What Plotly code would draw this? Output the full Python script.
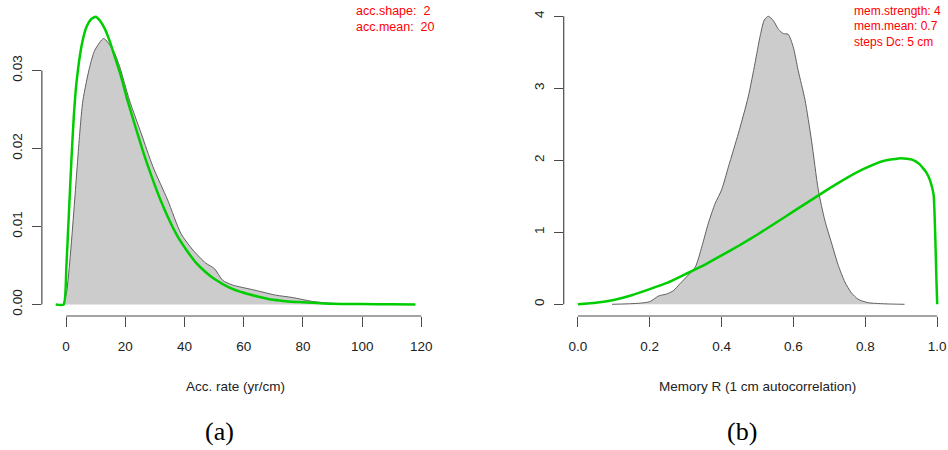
import plotly.graph_objects as go

# ---------------- data ----------------
# Panel (a): accumulation rate
acc_post_x = [-1.0, 0.1, 1.5, 2.9, 4.6, 5.7, 8.0, 9.7, 12.7, 14.7, 16.4, 18.1, 21.4, 25.4,
              29.3, 34.3, 38.8, 42.8, 47.2, 50.1, 52.9, 56.2, 63.0, 70.8, 76.4, 83.1, 89.9,
              101.1, 117.9]
acc_post_y = [0.0, 0.0014, 0.0066, 0.0134, 0.0219, 0.0262, 0.0305, 0.0326, 0.0341, 0.0333,
              0.0322, 0.0305, 0.0262, 0.0219, 0.0177, 0.0134, 0.0091, 0.0070, 0.0053, 0.0046,
              0.0031, 0.0025, 0.0019, 0.0012, 0.0009, 0.0004, 0.00015, 0.00003, 0.0]

acc_prior_x = [-3.5, -0.8, 0.1, 0.9, 1.8, 2.6, 3.5, 5.2, 6.9, 8.5, 10.0, 11.4, 13.0, 14.7,
               16.5, 18.5, 20.5, 23, 26, 29, 32, 35, 38, 41, 44, 47, 50, 55, 60, 65, 70, 75,
               80, 90, 100, 110, 118]
acc_prior_y = [0.0, 0.0, 0.0049, 0.0113, 0.0185, 0.0241, 0.0284, 0.0331, 0.0356, 0.0366,
               0.0369, 0.0364, 0.0354, 0.0338, 0.0317, 0.0293, 0.0265, 0.0233, 0.0196, 0.0163,
               0.0133, 0.0107, 0.0085, 0.0068, 0.0053, 0.0042, 0.0033, 0.0022, 0.0015, 0.0010,
               0.0006, 0.0004, 0.0003, 0.0001, 0.00005, 0.00002, 0.0]

acc_xticks = [0, 20, 40, 60, 80, 100, 120]
acc_yticks = [0.00, 0.01, 0.02, 0.03]
acc_yticklabels = ["0.00", "0.01", "0.02", "0.03"]
acc_legend = ["acc.shape:  2", "acc.mean:  20"]

# Panel (b): memory
mem_post_x = [0.095, 0.169, 0.200, 0.225, 0.248, 0.266, 0.285, 0.308, 0.327, 0.345, 0.363,
              0.382, 0.400, 0.419, 0.447, 0.474, 0.493, 0.507, 0.519, 0.530, 0.544, 0.558,
              0.572, 0.585, 0.599, 0.613, 0.632, 0.650, 0.669, 0.687, 0.706, 0.724, 0.743,
              0.761, 0.780, 0.807, 0.863, 0.909]
mem_post_y = [0.0, 0.014, 0.037, 0.116, 0.144, 0.19, 0.29, 0.41, 0.52, 0.80, 1.125, 1.40,
              1.59, 1.91, 2.38, 2.88, 3.35, 3.72, 3.95, 4.0, 3.94, 3.82, 3.76, 3.75, 3.58,
              3.25, 2.84, 2.28, 1.59, 1.17, 0.85, 0.55, 0.31, 0.16, 0.07, 0.023, 0.005, 0.0]

mem_prior_x = [0.0, 0.05, 0.1, 0.15, 0.2, 0.25, 0.3, 0.35, 0.4, 0.45, 0.5, 0.55, 0.6, 0.65,
               0.7, 0.75, 0.8, 0.85, 0.9, 0.93, 0.95, 0.97, 0.98, 0.99, 0.998, 1.0]
mem_prior_y = [0.0, 0.02, 0.06, 0.125, 0.21, 0.30, 0.42, 0.54, 0.68, 0.82, 0.97, 1.13, 1.29,
               1.45, 1.61, 1.76, 1.89, 1.99, 2.03, 2.01, 1.95, 1.83, 1.72, 1.52, 0.3, 0.0]

mem_xticks = [0.0, 0.2, 0.4, 0.6, 0.8, 1.0]
mem_xticklabels = ["0.0", "0.2", "0.4", "0.6", "0.8", "1.0"]
mem_yticks = [0, 1, 2, 3, 4]
mem_legend = ["mem.strength: 4", "mem.mean: 0.7", "steps Dc: 5 cm"]

xlabels = ["Acc. rate (yr/cm)", "Memory R (1 cm autocorrelation)"]
captions = ["(a)", "(b)"]

# ---------------- styling ----------------
W, H = 948, 450
FILL = "#CCCCCC"
OUTLINE = "#606060"
GREEN = "#00CD00"
AXC = "#4A4A4A"
TXT = "#222222"
SANS = "Liberation Sans, Arial, sans-serif"
SERIF = "Liberation Serif, Times New Roman, serif"


def px_x(p):
    return p / W


def px_y(p):
    return 1 - p / H


ydom = [px_y(316.0), px_y(5.1)]

fig = go.Figure()
fig.add_trace(go.Scatter(x=acc_post_x, y=acc_post_y, mode="lines", fill="tozeroy",
                         fillcolor=FILL,
                         line=dict(color=OUTLINE, width=1, shape="spline", smoothing=0.7),
                         xaxis="x", yaxis="y", showlegend=False))
fig.add_trace(go.Scatter(x=acc_prior_x, y=acc_prior_y, mode="lines",
                         line=dict(color=GREEN, width=2.5, shape="spline", smoothing=0.5),
                         xaxis="x", yaxis="y", showlegend=False))
fig.add_trace(go.Scatter(x=mem_post_x, y=mem_post_y, mode="lines", fill="tozeroy",
                         fillcolor=FILL,
                         line=dict(color=OUTLINE, width=1, shape="spline", smoothing=0.7),
                         xaxis="x2", yaxis="y2", showlegend=False))
fig.add_trace(go.Scatter(x=mem_prior_x, y=mem_prior_y, mode="lines",
                         line=dict(color=GREEN, width=2.5, shape="spline", smoothing=0.4),
                         xaxis="x2", yaxis="y2", showlegend=False))

common_ax = dict(showgrid=False, zeroline=False, showline=False, ticks="outside",
                 tickcolor=AXC, tickwidth=1.2, tickfont=dict(family=SANS, size=13.5, color=TXT))

fig.update_layout(
    width=W, height=H, margin=dict(l=0, r=0, t=0, b=0),
    paper_bgcolor="white", plot_bgcolor="white",
    xaxis=dict(domain=[px_x(42), px_x(431.3)], range=[(42 - 66.3) / 2.97, (431.3 - 66.3) / 2.97],
               tickvals=acc_xticks, ticklen=10, ticklabelstandoff=8, anchor="y", **common_ax),
    yaxis=dict(domain=ydom, range=[(304.5 - 316.0) / 7800, (304.5 - 5.1) / 7800],
               tickvals=acc_yticks, ticktext=acc_yticklabels, ticklen=9, tickangle=-90,
               ticklabelstandoff=4, anchor="x", **common_ax),
    xaxis2=dict(domain=[px_x(565.5), 1.0], range=[(565.5 - 579.7) / 360.5, (948 - 579.7) / 360.5],
                tickvals=mem_xticks, ticktext=mem_xticklabels, ticklen=10, ticklabelstandoff=8,
                anchor="y2", **common_ax),
    yaxis2=dict(domain=ydom, range=[(304.3 - 316.0) / 72, (304.3 - 5.1) / 72],
                tickvals=mem_yticks, ticklen=9, tickangle=-90, ticklabelstandoff=4,
                anchor="x2", **common_ax),
)

# R-style axis lines spanning only the tick range
shapes = [
    dict(type="line", xref="x", yref="y domain", x0=acc_xticks[0], x1=acc_xticks[-1], y0=0, y1=0,
         line=dict(color=AXC, width=1.2)),
    dict(type="line", xref="x domain", yref="y", x0=0, x1=0, y0=acc_yticks[0], y1=acc_yticks[-1],
         line=dict(color=AXC, width=1.2)),
    dict(type="line", xref="x2", yref="y2 domain", x0=mem_xticks[0], x1=mem_xticks[-1], y0=0, y1=0,
         line=dict(color=AXC, width=1.2)),
    dict(type="line", xref="x2 domain", yref="y2", x0=0, x1=0, y0=mem_yticks[0], y1=mem_yticks[-1],
         line=dict(color=AXC, width=1.2)),
]
fig.update_layout(shapes=shapes)

ann = []
# axis titles
for label, cx in zip(xlabels, [236.6, 760.0]):
    ann.append(dict(text=label, xref="paper", yref="paper", x=px_x(cx), y=px_y(386.7),
                    xanchor="center", yanchor="middle", showarrow=False,
                    font=dict(family=SANS, size=13.5, color=TXT)))
# captions
for cap, cx in zip(captions, [220.0, 744.0]):
    ann.append(dict(text=cap, xref="paper", yref="paper", x=px_x(cx), y=px_y(431.7),
                    xanchor="center", yanchor="middle", showarrow=False,
                    font=dict(family=SERIF, size=26, color="black")))
# red legends
for i, t in enumerate(acc_legend):
    ann.append(dict(text=t, xref="paper", yref="paper", x=px_x(355.0), y=px_y(10.7 + 16 * i),
                    xanchor="left", yanchor="middle", showarrow=False,
                    font=dict(family=SANS, size=12.5, color="#FF0000")))
for i, t in enumerate(mem_legend):
    ann.append(dict(text=t, xref="paper", yref="paper", x=px_x(855.0), y=px_y(10.7 + 15.8 * i),
                    xanchor="left", yanchor="middle", showarrow=False,
                    font=dict(family=SANS, size=12, color="#FF0000")))
fig.update_layout(annotations=ann)

fig.write_html("out.html")
